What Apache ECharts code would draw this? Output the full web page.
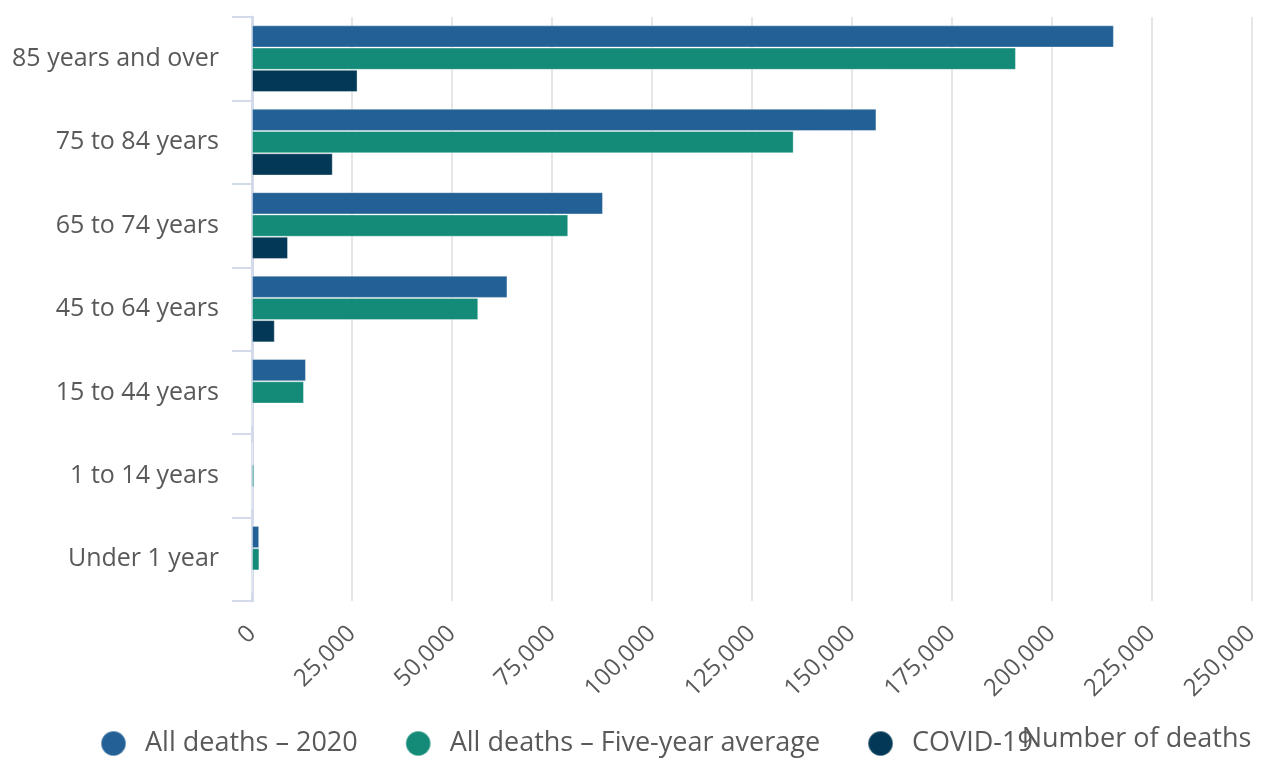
<!DOCTYPE html>
<html>
<head>
<meta charset="utf-8">
<script src="https://cdn.jsdelivr.net/npm/echarts@6/dist/echarts.min.js"></script>
<style>
html,body{margin:0;padding:0;background:#fff;}
#chart{width:1262px;height:758px;}
</style>
</head>
<body>
<div id="chart"></div>
<script>
const categories = ['85 years and over', '75 to 84 years', '65 to 74 years', '45 to 64 years', '15 to 44 years', '1 to 14 years', 'Under 1 year'];
const deaths2020 = [215600, 156200, 87800, 63900, 13500, 100, 1800];
const deathsFiveYearAvg = [191100, 135500, 79100, 56600, 13000, 550, 1850];
const deathsCovid = [26400, 20200, 9000, 5700, 0, 0, 0];
const seriesNames = ['All deaths – 2020', 'All deaths – Five-year average', 'COVID-19'];
const colors = ['#226095', '#138b78', '#033856'];

const chart = echarts.init(document.getElementById('chart'));
const font = 'Open Sans';
chart.setOption({
  animation: false,
  color: colors,
  textStyle: { fontFamily: font },
  grid: { left: 252, right: 8, top: 17, bottom: 157, containLabel: false },
  legend: {
    left: 95, top: 725,
    icon: 'circle', itemWidth: 25, itemHeight: 25, itemGap: 47,
    textStyle: { fontFamily: font, fontSize: 27, color: '#595959', padding: [0, 0, 0, 14] },
    data: seriesNames
  },
  xAxis: {
    type: 'value', min: 0, max: 250000, interval: 25000,
    name: 'Number of deaths', nameLocation: 'end', nameGap: 0,
    nameTextStyle: { fontFamily: font, fontSize: 27, color: '#595959', align: 'right', verticalAlign: 'top', padding: [125, 0, 0, 0] },
    axisLine: { show: false }, axisTick: { show: false },
    axisLabel: {
      rotate: 45, fontFamily: font, fontSize: 24, color: '#595959', margin: 29,
      formatter: v => v.toLocaleString('en-US')
    },
    splitLine: { show: true, lineStyle: { color: '#e6e6e6', width: 2 } }
  },
  yAxis: {
    type: 'category', data: categories, inverse: true,
    axisLine: { show: true, lineStyle: { color: '#d3dbea', width: 3 } },
    axisTick: { show: true, length: 20, lineStyle: { color: '#d3dbea', width: 2 } },
    axisLabel: { fontFamily: font, fontSize: 25, color: '#595959', margin: 33, padding: [9, 0, 0, 0] },
    splitLine: { show: false }
  },
  series: [
    { name: seriesNames[0], type: 'bar', data: deaths2020, barGap: '0%', barCategoryGap: '20%', itemStyle: { borderColor: 'rgba(255,255,255,0.35)', borderWidth: 1 } },
    { name: seriesNames[1], type: 'bar', data: deathsFiveYearAvg, barGap: '0%', barCategoryGap: '20%', itemStyle: { borderColor: 'rgba(255,255,255,0.35)', borderWidth: 1 } },
    { name: seriesNames[2], type: 'bar', data: deathsCovid, barGap: '0%', barCategoryGap: '20%', itemStyle: { borderColor: 'rgba(255,255,255,0.35)', borderWidth: 1 } }
  ]
});
</script>
</body>
</html>
